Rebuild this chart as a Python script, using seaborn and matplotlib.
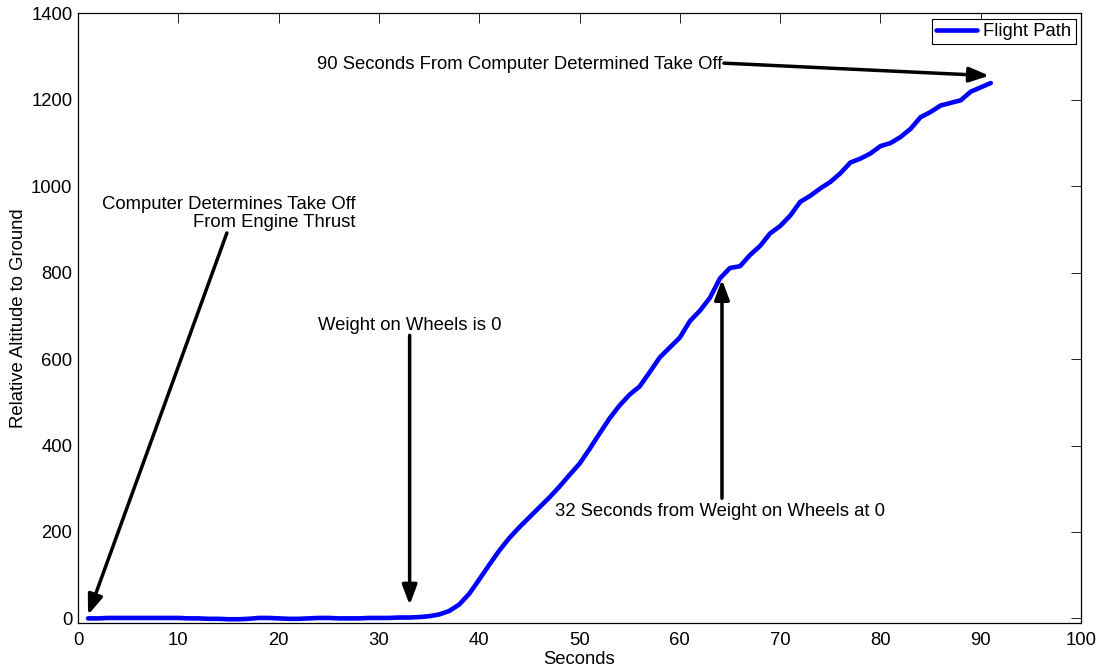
import matplotlib
matplotlib.use("Agg")
import matplotlib.pyplot as plt
import seaborn as sns
import pandas as pd

# Flight altitude sampled once per second
seconds = list(range(1, 92))
altitude = [
    0, 0, 1, 1, 1, 1, 1, 1, 1, 1,
    0, 0, -1, -1, -2, -2, -1, 1, 1, 0,
    -1, -1, 0, 1, 1, 0, 0, 0, 1, 1,
    1, 2, 2, 3, 5, 9, 17, 32, 57, 90,
    124, 157, 186, 211, 234, 257, 280, 305, 332, 358,
    392, 428, 463, 493, 518, 537, 570, 604, 627, 650,
    688, 712, 742, 787, 811, 815, 841, 862, 891, 908,
    932, 964, 978, 995, 1010, 1030, 1055, 1064, 1076, 1093,
    1100, 1114, 1133, 1160, 1172, 1187, 1193, 1199, 1219, 1229, 1239,
]
series_name = "Flight Path"
x_ticks = [0, 10, 20, 30, 40, 50, 60, 70, 80, 90, 100]
y_ticks = [0, 200, 400, 600, 800, 1000, 1200, 1400]

sns.set_theme(style="white")
plt.rcParams["font.family"] = ["Liberation Sans", "DejaVu Sans"]
FS = 13.3
plt.rcParams.update({
    "font.size": FS,
    "text.color": "black",
    "axes.labelcolor": "black",
    "axes.edgecolor": "black",
    "axes.linewidth": 0.9,
    "xtick.direction": "in",
    "ytick.direction": "in",
    "xtick.top": True,
    "ytick.right": True,
    "xtick.major.size": 7,
    "ytick.major.size": 7,
    "xtick.major.width": 0.6,
    "ytick.major.width": 0.6,
    "xtick.color": "black",
    "ytick.color": "black",
    "xtick.labelcolor": "black",
    "ytick.labelcolor": "black",
})

df = pd.DataFrame({"Seconds": seconds, "Altitude": altitude})

fig = plt.figure(figsize=(11.02, 6.70), dpi=100)
ax = fig.add_axes([0.0708, 0.0706, 0.9102, 0.9093])

sns.lineplot(data=df, x="Seconds", y="Altitude", ax=ax, color=(0, 0, 1),
             linewidth=3.3, label=series_name, estimator=None)

ax.set_xlim(0, 100)
ax.set_ylim(-10, 1400)
ax.set_xticks(x_ticks)
ax.set_yticks(y_ticks)
ax.tick_params(axis="x", pad=7, labelsize=FS)
ax.tick_params(axis="y", pad=4, labelsize=FS)
ax.set_xlabel("Seconds", fontsize=FS, labelpad=1)
ax.set_ylabel("Relative Altitude to Ground", fontsize=FS, labelpad=3)

leg = ax.legend(loc="upper right", fontsize=FS, frameon=True, fancybox=False,
                framealpha=1, edgecolor="black", handlelength=2.2,
                handletextpad=0.35, borderpad=0.22, borderaxespad=0.3)
leg.get_frame().set_linewidth(0.8)

arrow = dict(arrowstyle="-|>,head_length=1.2,head_width=0.45",
             mutation_scale=10, lw=2.5, color="black",
             shrinkA=0, shrinkB=0)

# Take-off detected from engine thrust
ax.text(27.65, 937, "Computer Determines Take Off\nFrom Engine Thrust",
        ha="right", va="center", multialignment="right", fontsize=FS,
        linespacing=1.1)
ax.annotate("", xy=(1.0, 8), xytext=(14.84, 892), arrowprops=arrow)

# Weight on wheels reaches zero
ax.text(23.9, 678, "Weight on Wheels is 0", ha="left", va="center", fontsize=FS)
ax.annotate("", xy=(33.06, 31), xytext=(33.06, 655), arrowprops=arrow)

# 32 s after weight on wheels
ax.text(47.6, 247, "32 Seconds from Weight on Wheels at 0",
        ha="left", va="center", fontsize=FS)
ax.annotate("", xy=(64.2, 784), xytext=(64.2, 278), arrowprops=arrow)

# 90 s after take-off
ax.text(64.24, 1281, "90 Seconds From Computer Determined Take Off",
        ha="right", va="center", fontsize=FS)
ax.annotate("", xy=(90.85, 1256), xytext=(64.4, 1285), arrowprops=arrow)

fig.savefig("out.png", dpi=100)
